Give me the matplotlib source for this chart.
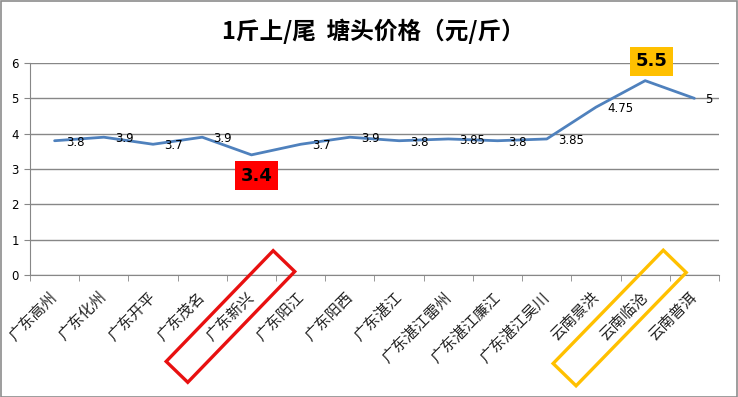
import matplotlib
matplotlib.use("Agg")
import matplotlib.pyplot as plt
import matplotlib.transforms as mtransforms
from matplotlib.patches import Rectangle
import numpy as np

plt.rcParams['font.family'] = ['Noto Sans CJK SC', 'DejaVu Sans']

categories = ['广东高州', '广东化州', '广东开平', '广东茂名', '广东新兴', '广东阳江', '广东阳西',
              '广东湛江', '广东湛江雷州', '广东湛江廉江', '广东湛江吴川', '云南景洪', '云南临沧', '云南普洱']
prices = [3.8, 3.9, 3.7, 3.9, 3.4, 3.7, 3.9, 3.8, 3.85, 3.8, 3.85, 4.75, 5.5, 5]
label_texts = ['3.8', '3.9', '3.7', '3.9', '3.4', '3.7', '3.9', '3.8', '3.85', '3.8', '3.85', '4.75', '5.5', '5']
yticks = [0, 1, 2, 3, 4, 5, 6]
title = '1斤上/尾  塘头价格（元/斤）'
low_idx = 4
high_idx = 12

W, H = 738, 397
fig = plt.figure(figsize=(W / 100, H / 100), dpi=100)
fig.patch.set_facecolor('white')
fig.patches.append(Rectangle((0.5 / W, 0.5 / H), 1 - 1.5 / W, 1 - 1.5 / H, transform=fig.transFigure,
                             fill=False, edgecolor='#8c8c8c', linewidth=1.2))

ax = fig.add_axes([30 / W, 1 - 275 / H, (719 - 30) / W, (275 - 63) / H])
ax.set_facecolor('white')

x = np.arange(len(categories)) + 0.5
ax.plot(x, prices, color='#4F81BD', linewidth=2.0, solid_capstyle='round', zorder=3)

ax.set_xlim(0, len(categories))
ax.set_ylim(0, 6)
ax.set_yticks(yticks)
ax.set_yticklabels([str(v) for v in yticks], fontsize=8.5, family='DejaVu Sans')
ax.yaxis.grid(True, color='#878787', linewidth=1)
ax.set_axisbelow(True)
ax.tick_params(axis='y', length=4, color='#878787', pad=4)

ax.set_xticks(x)
ax.set_xticklabels(categories, rotation=45, ha='right', va='center', rotation_mode='anchor',
                   fontsize=11, color='#222222')
ax.set_xticks(np.arange(len(categories) + 1), minor=True)
ax.tick_params(axis='x', which='major', length=0, pad=14)
ax.tick_params(axis='x', which='minor', length=4, color='#878787')

for s in ['top', 'right']:
    ax.spines[s].set_visible(False)
ax.spines['left'].set_color('#878787')
ax.spines['bottom'].set_color('#878787')

for i, (xi, yi, t) in enumerate(zip(x, prices, label_texts)):
    if i == low_idx:
        ax.annotate(t, (xi, yi), xytext=(3.5, -15), textcoords='offset points', ha='center', va='center',
                    fontsize=13, fontweight='bold', family='DejaVu Sans',
                    bbox=dict(boxstyle='square,pad=0.3', facecolor='#FF0000', edgecolor='none'), zorder=5)
    elif i == high_idx:
        ax.annotate(t, (xi, yi), xytext=(4.5, 14), textcoords='offset points', ha='center', va='center',
                    fontsize=13, fontweight='bold', family='DejaVu Sans',
                    bbox=dict(boxstyle='square,pad=0.3', facecolor='#FFC000', edgecolor='none'), zorder=5)
    else:
        ax.annotate(t, (xi, yi), xytext=(8, -1), textcoords='offset points', ha='left', va='center',
                    fontsize=8.5, family='DejaVu Sans', zorder=4)

fig.text(373 / W, 1 - 31 / H, title, ha='center', va='center', fontsize=17, fontweight='bold')


def highlight(idx, dx, dy, w, h, ang, color):
    tr = (mtransforms.Affine2D().rotate_deg(ang).translate(dx, dy)
          + mtransforms.ScaledTranslation(x[idx], 0, ax.transData))
    r = Rectangle((-w / 2, -h / 2), w, h, transform=tr, fill=False, edgecolor=color,
                  linewidth=2.4, clip_on=False, zorder=6)
    ax.add_patch(r)


highlight(low_idx, -21, -41.5, 154, 30, 46, '#E81010')
highlight(high_idx, -25.5, -43, 158, 32, 45.8, '#FFC000')

fig.savefig('out.png', dpi=100)
